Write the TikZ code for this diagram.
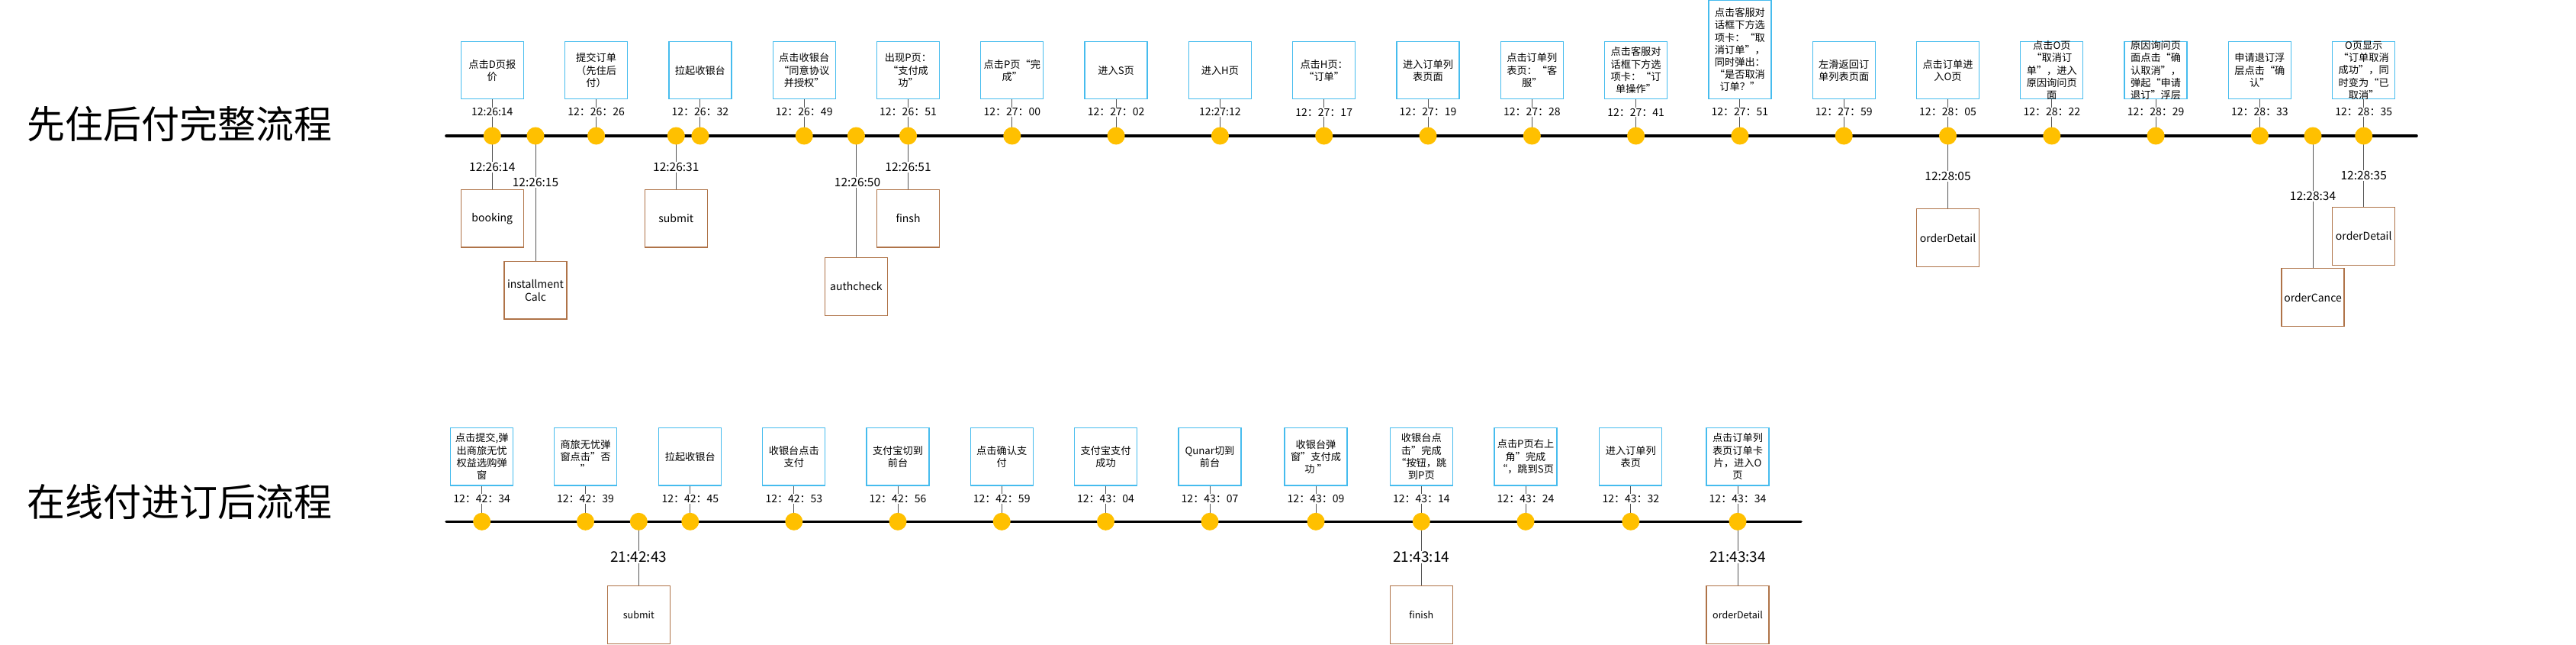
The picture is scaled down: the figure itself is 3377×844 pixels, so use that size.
\documentclass[tikz,border=0pt]{standalone}
\usepackage{fontspec}
\setmainfont{Noto Sans CJK SC}
\usetikzlibrary{backgrounds}
\pgfdeclarelayer{paper}
\pgfsetlayers{paper,background,main}
\definecolor{boxblue}{RGB}{70,188,238}
\definecolor{dotyellow}{RGB}{255,192,0}
\definecolor{boxbrown}{RGB}{175,115,72}
\definecolor{stemgray}{RGB}{85,85,85}
\tikzset{
  evbox/.style={draw=boxblue, line width=1.3pt, minimum width=82pt, inner sep=0pt},
  evtext/.style={align=center, inner sep=0pt, font=\fontsize{13.2}{16.2}\selectfont},
  tstamp/.style={fill=white, inner sep=1.2pt, font=\fontsize{14}{16}\selectfont},
  tdot/.style={circle, fill=dotyellow, minimum size=23pt, inner sep=0pt},
  stemline/.style={draw=stemgray, line width=1pt},
  mainline/.style={draw=black, line width=3.6pt, line cap=round},
  apibox/.style={draw=boxbrown, line width=1.2pt, minimum width=82pt, minimum height=75.7pt, inner sep=0pt, align=center, font=\fontsize{14}{17}\selectfont},
  apiboxs/.style={apibox, font=\fontsize{12.5}{15}\selectfont},
  apilabel/.style={fill=white, inner sep=1pt, font=\fontsize{15.5}{18}\selectfont},
  apilabelb/.style={fill=white, inner sep=1pt, font=\fontsize{19}{22}\selectfont},
  ttl/.style={font=\fontsize{50}{56}\selectfont, inner sep=0pt}
}
% #1 id, #2 x, #3 box height, #4 time stamp, #5 text
\newcommand{\TopEv}[5]{%
  \node[evbox, minimum height=#3pt, anchor=south] (a#1) at (#2,130.3) {};
  \node[evtext] (at#1) at (a#1.center) {#5};
  \node[tstamp] (as#1) at (#2,147) {#4};
  \node[tdot] (ad#1) at (#2,178) {};
  \begin{scope}[on background layer]
    \draw[stemline] (a#1.south) -- (ad#1.center);
  \end{scope}
}
% #1 id, #2 x, #3 time stamp, #4 text
\newcommand{\BotEv}[4]{%
  \node[evbox, minimum height=75.7pt, anchor=south] (b#1) at (#2,636.7) {};
  \node[evtext] (bt#1) at (b#1.center) {#4};
  \node[tstamp] (bs#1) at (#2,653.3) {#3};
  \node[tdot] (bd#1) at (#2,683.3) {};
  \begin{scope}[on background layer]
    \draw[stemline] (b#1.south) -- (bd#1.center);
  \end{scope}
}
\begin{document}
\begin{tikzpicture}[x=1pt,y=-1pt]
\begin{pgfonlayer}{paper}
  \fill[white] (0,0) rectangle (3377,844);
\end{pgfonlayer}
\useasboundingbox (0,0) rectangle (3377,844);

% titles
\node[ttl] (title1) at (235,162) {先住后付完整流程};
\node[ttl] (title2) at (235,657) {在线付进订后流程};

% ---------- top timeline ----------
\coordinate (L1s) at (585,178);
\coordinate (L1e) at (3168,178);
\begin{scope}[on background layer]
  \draw[mainline] (L1s) -- (L1e);
\end{scope}

\TopEv{1}{645.3}{75}{12:26:14}{点击D页报\\价}
\TopEv{2}{781.6}{75}{12：26：26}{提交订单\\（先住后\\付）}
\TopEv{3}{917.9}{75}{12：26：32}{拉起收银台}
\TopEv{4}{1054.2}{75}{12：26：49}{点击收银台\\“同意协议\\并授权”}
\TopEv{5}{1190.5}{75}{12：26：51}{出现P页：\\“支付成\\功”}
\TopEv{6}{1326.8}{75}{12：27：00}{点击P页“完\\成”}
\TopEv{7}{1463.1}{75}{12：27：02}{进入S页}
\TopEv{8}{1599.4}{75}{12:27:12}{进入H页}
\TopEv{9}{1735.7}{75}{12：27：17}{点击H页：\\“订单”}
\TopEv{10}{1872.0}{75}{12：27：19}{进入订单列\\表页面}
\TopEv{11}{2008.3}{75}{12：27：28}{点击订单列\\表页：“客\\服”}
\TopEv{12}{2144.6}{75}{12：27：41}{点击客服对\\话框下方选\\项卡：“订\\单操作”}
\TopEv{13}{2280.9}{129}{12：27：51}{点击客服对\\话框下方选\\项卡：“取\\消订单”，\\同时弹出：\\“是否取消\\订单？”}
\TopEv{14}{2417.2}{75}{12：27：59}{左滑返回订\\单列表页面}
\TopEv{15}{2553.5}{75}{12：28：05}{点击订单进\\入O页}
\TopEv{16}{2689.8}{75}{12：28：22}{点击O页\\“取消订\\单”，进入\\原因询问页\\面}
\TopEv{17}{2826.1}{75}{12：28：29}{原因询问页\\面点击“确\\认取消”，\\弹起“申请\\退订”浮层}
\TopEv{18}{2962.4}{75}{12：28：33}{申请退订浮\\层点击“确\\认”}
\TopEv{19}{3098.7}{75}{12：28：35}{O页显示\\“订单取消\\成功”，同\\时变为“已\\取消”}

% extra dots on top timeline
\node[tdot] (ax1) at (702,178) {};
\node[tdot] (ax2) at (886.3,178) {};
\node[tdot] (ax3) at (1122.4,178) {};
\node[tdot] (ax4) at (3032,178) {};

% API boxes below top timeline
\node[apibox] (bk)   at (645.3,286.2)  {booking};
\node[apibox] (inst) at (702,380.2)    {installment\\Calc};
\node[apibox] (sub)  at (886.3,286.2)  {submit};
\node[apibox] (auth) at (1122.4,375.5) {authcheck};
\node[apibox] (fin)  at (1190.5,286.2) {finsh};
\node[apibox] (od1)  at (2553.5,311.7) {orderDetail};
\node[apibox] (oc)   at (3032,389.7)   {orderCance};
\node[apibox] (od2)  at (3098.7,309.3) {orderDetail};

\node[apilabel] (lbk)   at (645.3,219)  {12:26:14};
\node[apilabel] (linst) at (702,239)    {12:26:15};
\node[apilabel] (lsub)  at (886.3,219)  {12:26:31};
\node[apilabel] (lauth) at (1124,239)   {12:26:50};
\node[apilabel] (lfin)  at (1190.5,219) {12:26:51};
\node[apilabel] (lod1)  at (2553.5,231) {12:28:05};
\node[apilabel] (loc)   at (3032,257)   {12:28:34};
\node[apilabel] (lod2)  at (3098.7,230) {12:28:35};

\begin{scope}[on background layer]
  \draw[stemline] (ad1.center) -- (bk.north);
  \draw[stemline] (ax1.center) -- (inst.north);
  \draw[stemline] (ax2.center) -- (sub.north);
  \draw[stemline] (ax3.center) -- (auth.north);
  \draw[stemline] (ad5.center) -- (fin.north);
  \draw[stemline] (ad15.center) -- (od1.north);
  \draw[stemline] (ax4.center) -- (oc.north);
  \draw[stemline] (ad19.center) -- (od2.north);
\end{scope}

% ---------- bottom timeline ----------
\coordinate (L2s) at (585,683.3);
\coordinate (L2e) at (2361,683.3);
\begin{scope}[on background layer]
  \draw[mainline] (L2s) -- (L2e);
\end{scope}

\BotEv{1}{631.7}{12：42：34}{点击提交,弹\\出商旅无忧\\权益选购弹\\窗}
\BotEv{2}{767.5}{12：42：39}{商旅无忧弹\\窗点击”否\\”}
\BotEv{3}{904.8}{12：42：45}{拉起收银台}
\BotEv{4}{1040.8}{12：42：53}{收银台点击\\支付}
\BotEv{5}{1177.0}{12：42：56}{支付宝切到\\前台}
\BotEv{6}{1313.2}{12：42：59}{点击确认支\\付}
\BotEv{7}{1449.5}{12：43：04}{支付宝支付\\成功}
\BotEv{8}{1586.0}{12：43：07}{Qunar切到\\前台}
\BotEv{9}{1725.0}{12：43：09}{收银台弹\\窗”支付成\\功 ”}
\BotEv{10}{1863.3}{12：43：14}{收银台点\\击”完成\\“按钮，跳\\到P页}
\BotEv{11}{2000.0}{12：43：24}{点击P页右上\\角”完成\\“，跳到S页}
\BotEv{12}{2137.8}{12：43：32}{进入订单列\\表页}
\BotEv{13}{2278.0}{12：43：34}{点击订单列\\表页订单卡\\片，进入O\\页}

\node[tdot] (bx1) at (837.3,683.3) {};

\node[apiboxs] (bsub) at (837.3,805.3)  {submit};
\node[apiboxs] (bfin) at (1863.3,805.3) {finish};
\node[apiboxs] (bod)  at (2278,805.3)   {orderDetail};

\node[apilabelb] (lbsub) at (837.3,730)  {21:42:43};
\node[apilabelb] (lbfin) at (1863.3,730) {21:43:14};
\node[apilabelb] (lbod)  at (2278,730)   {21:43:34};

\begin{scope}[on background layer]
  \draw[stemline] (bx1.center) -- (bsub.north);
  \draw[stemline] (bd10.center) -- (bfin.north);
  \draw[stemline] (bd13.center) -- (bod.north);
\end{scope}
\end{tikzpicture}
\end{document}
